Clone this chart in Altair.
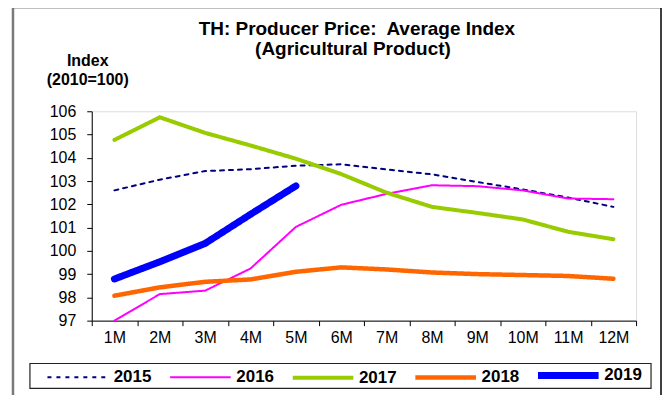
import altair as alt
import pandas as pd

months = ["1M", "2M", "3M", "4M", "5M", "6M", "7M", "8M", "9M", "10M", "11M", "12M"]
years = ["2015", "2016", "2017", "2018", "2019"]
v2015 = [102.60, 103.06, 103.43, 103.51, 103.66, 103.72, 103.50, 103.29, 102.96, 102.64, 102.29, 101.89]
v2016 = [97.00, 98.14, 98.29, 99.24, 101.03, 101.98, 102.45, 102.82, 102.78, 102.60, 102.25, 102.22]
v2017 = [104.77, 105.74, 105.07, 104.53, 103.96, 103.30, 102.50, 101.89, 101.63, 101.35, 100.82, 100.50]
v2018 = [98.07, 98.43, 98.67, 98.77, 99.10, 99.29, 99.20, 99.07, 99.00, 98.96, 98.92, 98.80]
v2019 = [98.79, 99.53, 100.32, 101.57, 102.79]
y_ticks = [97, 98, 99, 100, 101, 102, 103, 104, 105, 106]
title_lines = ["TH: Producer Price:\u00a0 Average Index", "(Agricultural Product)"]
ytitle_lines = ["Index", "(2010=100)"]

colors = ["#000080", "#FF00FF", "#99CC00", "#FF6600", "#0000FF"]
widths = [2, 2, 4, 4.5, 7]
dashes = [[4, 5], [1, 0], [1, 0], [1, 0], [1, 0]]

rows = []
for yr, vals in zip(years, [v2015, v2016, v2017, v2018, v2019]):
    for i, v in enumerate(vals):
        rows.append({"month": months[i], "year": yr, "value": v, "order": i})
df = pd.DataFrame(rows)

FONT = "Liberation Sans"
one = pd.DataFrame({"k": [0]})

legend = alt.Legend(
    orient="none", legendX=-48, legendY=231, direction="horizontal", columns=5,
    title=None, symbolType="stroke", symbolSize=3700, gridAlign="all",
    labelFont=FONT, labelFontWeight="bold", labelFontSize=17, labelColor="black",
    labelOffset=2, columnPadding=4, padding=0,
)

lines = alt.Chart(df).mark_line(strokeCap="round", strokeJoin="round").encode(
    x=alt.X("month:N", sort=months,
            scale=alt.Scale(type="band", paddingInner=0, paddingOuter=0),
            bandPosition=0.5,
            axis=alt.Axis(title=None, labelAngle=0, tickBand="extent", grid=False,
                          domainColor="black", tickColor="black", tickSize=5,
                          labelPadding=4, labelFont=FONT, labelFontSize=16,
                          labelColor="black")),
    y=alt.Y("value:Q", scale=alt.Scale(domain=[97, 106], nice=False, zero=False),
            axis=alt.Axis(title=None, values=y_ticks, grid=False, domainColor="black",
                          tickColor="black", tickSize=5, labelPadding=11,
                          labelFont=FONT, labelFontSize=16, labelColor="black")),
    color=alt.Color("year:N", sort=years,
                    scale=alt.Scale(domain=years, range=colors), legend=legend),
    strokeWidth=alt.StrokeWidth("year:N", sort=years,
                                scale=alt.Scale(type="ordinal", domain=years, range=widths),
                                legend=legend),
    strokeDash=alt.StrokeDash("year:N", sort=years,
                              scale=alt.Scale(domain=years, range=dashes), legend=legend),
    order="order:Q",
)

frame = alt.Chart(one).mark_rect(fillOpacity=0, stroke="black", strokeWidth=1.5).encode(
    x=alt.value(-79), x2=alt.value(571), y=alt.value(-104), y2=alt.value(300))
frame_left = alt.Chart(one).mark_rule(color="#7a7a7a", strokeWidth=2.5).encode(
    x=alt.value(-79), y=alt.value(-104), y2=alt.value(300))
legbox = alt.Chart(one).mark_rect(fillOpacity=0, stroke="#222222", strokeWidth=1.2).encode(
    x=alt.value(-62), x2=alt.value(561), y=alt.value(253), y2=alt.value(278))

t1 = alt.Chart(one).mark_text(font=FONT, fontSize=19, fontWeight="bold", color="black",
                              align="center", baseline="alphabetic").encode(
    x=alt.value(266), y=alt.value(-77), text=alt.value(title_lines[0]))
t2 = alt.Chart(one).mark_text(font=FONT, fontSize=19, fontWeight="bold", color="black",
                              align="center", baseline="alphabetic").encode(
    x=alt.value(262), y=alt.value(-56), text=alt.value(title_lines[1]))
yt1 = alt.Chart(one).mark_text(font=FONT, fontSize=16, fontWeight="bold", color="black",
                               align="center", baseline="alphabetic").encode(
    x=alt.value(-4), y=alt.value(-45), text=alt.value(ytitle_lines[0]))
yt2 = alt.Chart(one).mark_text(font=FONT, fontSize=16, fontWeight="bold", color="black",
                               align="center", baseline="alphabetic").encode(
    x=alt.value(-4), y=alt.value(-26), text=alt.value(ytitle_lines[1]))

chart = alt.layer(frame, frame_left, legbox, t1, t2, yt1, yt2, lines).properties(
    width=546, height=210,
    autosize=alt.AutoSizeParams(type="none"),
    padding={"left": 84, "top": 103, "right": 26, "bottom": 74},
).configure_view(stroke=None).configure(background="white")

chart.save("out.html", embed_options={"renderer": "svg", "actions": False})
